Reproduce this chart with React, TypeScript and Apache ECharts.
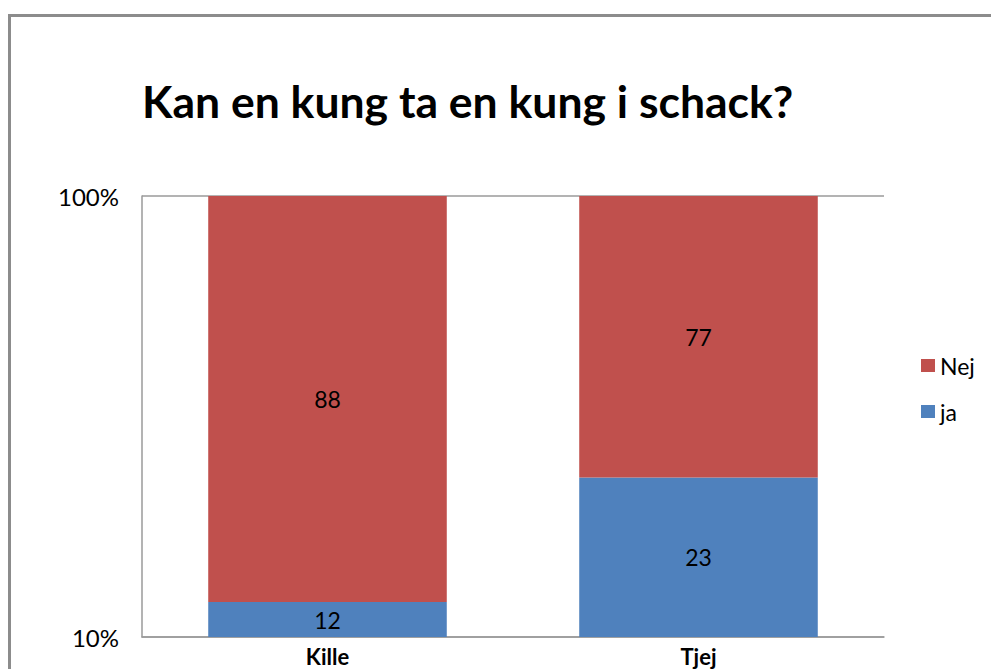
import React, { useEffect, useRef } from "react";
import * as echarts from "echarts";

const titleText = "Kan en kung ta en kung i schack?";
const categories = ["Kille", "Tjej"];
const seriesNames = ["ja", "Nej"];
const jaValues = [12, 23];
const nejValues = [88, 77];
const axisMin = 10;
const axisMax = 100;

const RED = "#C0504D";
const BLUE = "#4F81BD";
const FONT = "Lato";

export default function App() {
  const ref = useRef<HTMLDivElement>(null);
  useEffect(() => {
    if (!ref.current) return;
    const chart = echarts.init(ref.current, undefined, { renderer: "svg" });
    chart.setOption({
      animation: false,
      backgroundColor: "#ffffff",
      title: {
        text: titleText,
        left: 137,
        top: 73,
        textStyle: {
          fontFamily: FONT,
          fontWeight: "bold",
          fontSize: 44.5,
          color: "#000",
        },
      },
      graphic: [
        {
          type: "rect",
          shape: { x: 9.5, y: 15.5, width: 1000, height: 700 },
          style: { fill: "none", stroke: "#8c8c8c", lineWidth: 3 },
          silent: true,
        },
      ],
      legend: {
        orient: "vertical",
        left: 916,
        top: 349,
        itemWidth: 14,
        itemHeight: 13,
        itemGap: 23,
        icon: "rect",
        data: ["Nej", "ja"],
        textStyle: { fontFamily: FONT, fontSize: 23, color: "#000" },
      },
      grid: { left: 142, right: 107, top: 196, bottom: 32, containLabel: false },
      xAxis: {
        type: "category",
        data: categories,
        axisLine: { show: true, lineStyle: { color: "#9a9a9a", width: 1.5 } },
        axisTick: { show: false },
        axisLabel: {
          margin: 8,
          fontFamily: FONT,
          fontWeight: "bold",
          fontSize: 22,
          color: "#000",
        },
      },
      yAxis: {
        type: "log",
        logBase: 10,
        min: axisMin,
        max: axisMax,
        axisLine: { show: true, lineStyle: { color: "#9a9a9a", width: 1.5 } },
        axisTick: { show: false },
        splitLine: { show: true, lineStyle: { color: "#9a9a9a", width: 1.5 } },
        axisLabel: {
          margin: 23,
          fontFamily: FONT,
          fontSize: 24,
          color: "#000",
          formatter: (v: number) => `${v}%`,
        },
      },
      series: [
        {
          name: seriesNames[0],
          type: "bar",
          stack: "total",
          barWidth: "64.3%",
          clip: true,
          data: jaValues,
          itemStyle: { color: BLUE },
          label: {
            show: true,
            position: "inside",
            fontFamily: FONT,
            fontSize: 23,
            color: "#000",
          },
        },
        {
          name: seriesNames[1],
          type: "bar",
          stack: "total",
          barWidth: "64.3%",
          clip: true,
          data: nejValues,
          itemStyle: { color: RED },
          label: {
            show: true,
            position: "inside",
            fontFamily: FONT,
            fontSize: 23,
            color: "#000",
          },
        },
      ],
    });
    return () => chart.dispose();
  }, []);
  return (
    <div
      ref={ref}
      style={{ position: "fixed", left: 0, top: 0, width: 991, height: 669 }}
    />
  );
}
